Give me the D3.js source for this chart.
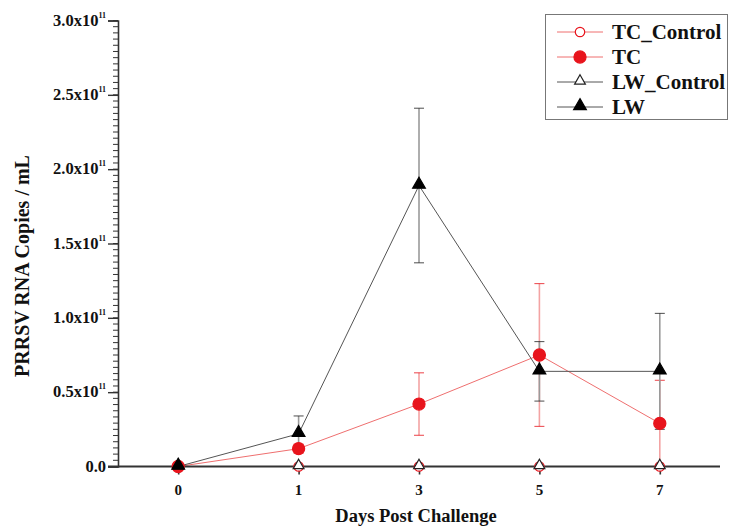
<!DOCTYPE html>
<html>
<head>
<meta charset="utf-8">
<script src="https://cdn.jsdelivr.net/npm/d3@7"></script>
<style>
  html, body { margin: 0; padding: 0; background: #fff; }
  svg { display: block; }
  text { font-family: "Liberation Serif", "Times New Roman", serif; font-weight: bold; fill: #111; }
</style>
</head>
<body>
<svg id="chart" width="729" height="526"></svg>
<script>
// Days after challenge (categorical axis)
const days = ["0", "1", "3", "5", "7"];

// Viral load, units of 10^11 copies / mL
const tcControl   = [0, 0, 0, 0, 0];
const tcControlSD = [0, 0, 0, 0, 0];
const tc          = [0, 0.12, 0.42, 0.75, 0.29];
const tcSD        = [0, 0.03, 0.21, 0.48, 0.29];
const lwControl   = [0, 0, 0, 0, 0];
const lwControlSD = [0, 0, 0, 0, 0];
const lw          = [0, 0.22, 1.89, 0.64, 0.64];
const lwSD        = [0, 0.12, 0.52, 0.20, 0.39];

// Y tick labels (mantissa of a x 10^11)
const yTicks = [0, 0.5, 1.0, 1.5, 2.0, 2.5, 3.0];
const yTickText = ["0.0", "0.5x10", "1.0x10", "1.5x10", "2.0x10", "2.5x10", "3.0x10"];

const seriesNames = ["TC_Control", "TC", "LW_Control", "LW"];

const svg = d3.select("#chart");

const plot = { left: 118, right: 720, top: 20.5, bottom: 466.5 };

const x = d3.scalePoint().domain(days).range([plot.left, plot.right]).padding(0.5);
const y = d3.scaleLinear().domain([0, 3]).range([plot.bottom, plot.top]);

const RED = "#e8141c";
const RED_LINE = "#ef6f6f";
const RED_ERR = "#f3a3a3";
const DARK = "#222";
const GRAY_LINE = "#555";
const GRAY_ERR = "#9a9a9a";

const series = [
  { name: seriesNames[0], vals: tcControl, sd: tcControlSD, shape: "circle", fill: "#fff", stroke: RED, line: RED_LINE, err: RED_ERR, cap: RED },
  { name: seriesNames[1], vals: tc, sd: tcSD, shape: "circle", fill: RED, stroke: RED, line: RED_LINE, err: RED_ERR, cap: RED },
  { name: seriesNames[2], vals: lwControl, sd: lwControlSD, shape: "triangle", fill: "#fff", stroke: DARK, line: GRAY_LINE, err: GRAY_ERR, cap: DARK },
  { name: seriesNames[3], vals: lw, sd: lwSD, shape: "triangle", fill: "#000", stroke: "#000", line: GRAY_LINE, err: GRAY_ERR, cap: DARK }
];

function markerPath(shape, big) {
  if (shape === "circle") return d3.symbol().type(d3.symbolCircle).size(big ? 115 : 70)();
  return d3.symbol().type(d3.symbolTriangle).size(big ? 70 : 50)();
}

// Error bars
series.forEach(s => {
  const g = svg.append("g");
  s.vals.forEach((v, i) => {
    if (s.sd[i] <= 0) return;
    const cx = x(days[i]);
    const y1 = y(v + s.sd[i]);
    const y0 = y(Math.max(0, v - s.sd[i]));
    g.append("line").attr("x1", cx).attr("x2", cx).attr("y1", y1).attr("y2", y0)
      .attr("stroke", s.err).attr("stroke-width", 1.6);
    [v + s.sd[i], v - s.sd[i]].forEach(e => {
      if (e < 0) return;
      g.append("line").attr("x1", cx - 5).attr("x2", cx + 5).attr("y1", y(e)).attr("y2", y(e))
        .attr("stroke", s.cap).attr("stroke-width", 1).attr("opacity", 0.8);
    });
  });
});

// Series lines
const lineGen = d3.line().x((d, i) => x(days[i])).y(d => y(d));
series.forEach(s => {
  svg.append("path").datum(s.vals).attr("d", lineGen)
    .attr("fill", "none").attr("stroke", s.line).attr("stroke-width", 1);
});

// Axes
const yAxisMinor = d3.range(0, 3.0001, 0.5 / 12);
svg.append("g").selectAll("line").data(yAxisMinor).join("line")
  .attr("x1", plot.left - 5).attr("x2", plot.left)
  .attr("y1", d => y(d)).attr("y2", d => y(d))
  .attr("stroke", "#333").attr("stroke-width", 1);

const yAxis = d3.axisLeft(y).tickValues(yTicks).tickSize(10).tickFormat("");
const gy = svg.append("g").attr("transform", `translate(${plot.left},0)`).call(yAxis);
gy.select(".domain").attr("stroke", "#333").attr("stroke-width", 1.6);
gy.selectAll(".tick line").attr("stroke", "#333").attr("stroke-width", 1.4);

// Y tick labels with superscript exponent
const yLab = svg.append("g");
yTicks.forEach((t, i) => {
  const tx = yLab.append("text").attr("x", 106).attr("y", y(t) + 5)
    .attr("text-anchor", "end").attr("font-size", 16.5);
  tx.append("tspan").text(yTickText[i]);
  if (t !== 0) {
    tx.append("tspan").attr("font-size", 8).attr("dy", -8).text("11");
  }
});

const xAxis = d3.axisBottom(x).tickSize(8).tickFormat("");
const gx = svg.append("g").attr("transform", `translate(0,${plot.bottom})`).call(xAxis);
gx.select(".domain").remove();
gx.selectAll(".tick line").attr("stroke", "#333").attr("stroke-width", 1.6);
svg.append("line").attr("x1", 108).attr("x2", plot.right).attr("y1", plot.bottom).attr("y2", plot.bottom)
  .attr("stroke", "#333").attr("stroke-width", 2.2);

svg.append("g").selectAll("text").data(days).join("text")
  .attr("x", d => x(d)).attr("y", 495).attr("text-anchor", "middle")
  .attr("font-size", 15).text(d => d);

// Markers
series.forEach(s => {
  const big = s.fill !== "#fff";
  svg.append("g").selectAll("path").data(s.vals).join("path")
    .attr("d", markerPath(s.shape, big))
    .attr("transform", (d, i) => `translate(${x(days[i])},${y(d) + (s.shape === "triangle" ? -1 : 0)})`)
    .attr("fill", s.fill).attr("stroke", s.stroke).attr("stroke-width", 1.2);
});

// Axis titles
svg.append("text").attr("x", 416).attr("y", 522).attr("text-anchor", "middle")
  .attr("font-size", 18.5).text("Days Post Challenge");
svg.append("text").attr("transform", `translate(29,266) rotate(-90)`).attr("text-anchor", "middle")
  .attr("font-size", 20).text("PRRSV RNA Copies / mL");

// Legend
const leg = svg.append("g");
leg.append("rect").attr("x", 545.5).attr("y", 14.5).attr("width", 182).attr("height", 105)
  .attr("fill", "#fff").attr("stroke", "#777").attr("stroke-width", 1);
series.forEach((s, i) => {
  const ly = 32 + i * 25;
  leg.append("line").attr("x1", 557).attr("x2", 603).attr("y1", ly).attr("y2", ly)
    .attr("stroke", s.line).attr("stroke-width", 1);
  const big = s.fill !== "#fff";
  leg.append("path").attr("d", markerPath(s.shape, big))
    .attr("transform", `translate(580,${ly + (s.shape === "triangle" ? -1 : 0)})`)
    .attr("fill", s.fill).attr("stroke", s.stroke).attr("stroke-width", 1.2);
  leg.append("text").attr("x", 612).attr("y", ly + 7).attr("font-size", 21).text(s.name);
});
</script>
</body>
</html>
